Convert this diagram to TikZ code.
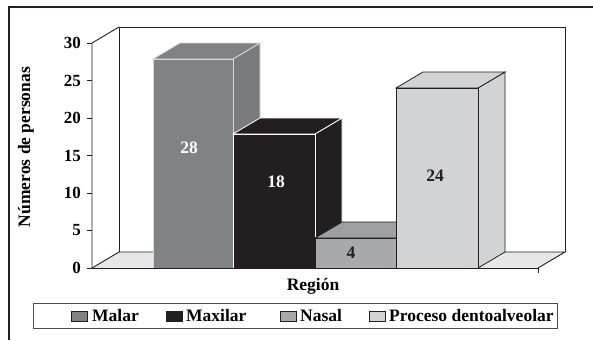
\documentclass[tikz,border=0pt]{standalone}
\usepackage{fontspec}
\setmainfont{Liberation Serif}
\definecolor{cMalar}{HTML}{818285}
\definecolor{cMalarS}{HTML}{7A7B7E}
\definecolor{cMax}{HTML}{231F20}
\definecolor{cNasal}{HTML}{A7A9AC}
\definecolor{cNasalT}{HTML}{9D9FA2}
\definecolor{cProc}{HTML}{D1D3D4}
\definecolor{cFloor}{HTML}{E6E7E8}
\definecolor{cLine}{HTML}{231F20}
\tikzset{
  wall/.style={draw=cLine, line width=0.9pt},
  lbl/.style={font=\fontsize{17.5}{20}\selectfont\bfseries, inner sep=0pt},
  vlbl/.style={font=\fontsize{17}{20}\selectfont\bfseries, inner sep=0pt},
  swatch/.style={draw=cLine, line width=0.7pt},
}
\begin{document}
\begin{tikzpicture}[x=1pt,y=-1pt]
\useasboundingbox (0,0) rectangle (593,340);
% outer frame
\draw[line width=1.4pt, cLine] (593,7) -- (9,7) -- (9,340);
% floor
\fill[cFloor] (92,268) -- (119,252) -- (565,252) -- (538,268) -- cycle;
% walls
\draw[wall] (92,268) -- (119,252) -- (565,252) -- (538,268);
\draw[wall] (119,252) -- (119,27) -- (565,27) -- (565,252);
\draw[wall] (92,268) -- (92,43) -- (119,27);
\draw[wall] (87,268) -- (538,268) -- (538,273);
\foreach \v/\y in {0/268,5/230.5,10/193,15/155.5,20/118,25/80.5,30/43}{
  \draw[wall] (87,\y) -- (92,\y);
  \node[vlbl, anchor=east] (t\v) at (81,\y) {\v};
}
% bars: \bar{x0}{x1}{ytop}{front}{side}{top}{edge}
\newcommand{\mybar}[7]{%
  \filldraw[fill=#5, draw=#7, line width=0.8pt] (#2,#3) -- (#2+27,#3-16) -- (#2+27,252) -- (#2,268) -- cycle;
  \filldraw[fill=#6, draw=#7, line width=0.8pt] (#1,#3) -- (#1+27,#3-16) -- (#2+27,#3-16) -- (#2,#3) -- cycle;
  \filldraw[fill=#4, draw=#7, line width=0.8pt] (#1,#3) rectangle (#2,268);
}
\mybar{153}{233}{59}{cMalar}{cMalarS}{cMalar}{white!85!black}
\mybar{233}{315}{134}{cMax}{cMax}{cMax}{white}
\mybar{315}{396}{238}{cNasal}{cNasalT}{cNasalT}{cLine}
\mybar{396}{478}{88}{cProc}{cProc}{cProc}{cLine}
\draw[cLine, line width=0.9pt] (92,268) -- (538,268);
% value labels
\node[lbl, text=white] (v1) at (189,148) {28};
\node[lbl, text=white] (v2) at (276,182) {18};
\node[lbl, text=cLine] (v3) at (351,253) {4};
\node[lbl, text=cLine] (v4) at (435,176) {24};
% axis titles
\node[lbl, rotate=90] (ytitle) at (26,147) {Números de personas};
\node[lbl] (xtitle) at (313,286) {Región};
% legend
\draw[draw=black!70, line width=0.9pt, fill=white] (33,303) rectangle (557,328);
\filldraw[swatch, fill=cMalar] (71,311) rectangle (87,321);
\node[lbl, anchor=west] (l1) at (92,316) {Malar};
\filldraw[swatch, fill=cMax] (166,311) rectangle (182,321);
\node[lbl, anchor=west] (l2) at (186,316) {Maxilar};
\filldraw[swatch, fill=cNasal] (280,311) rectangle (296,321);
\node[lbl, anchor=west] (l3) at (300,316) {Nasal};
\filldraw[swatch, fill=cProc] (369,311) rectangle (385,321);
\node[lbl, anchor=west] (l4) at (389,316) {Proceso dentoalveolar};
\end{tikzpicture}
\end{document}
